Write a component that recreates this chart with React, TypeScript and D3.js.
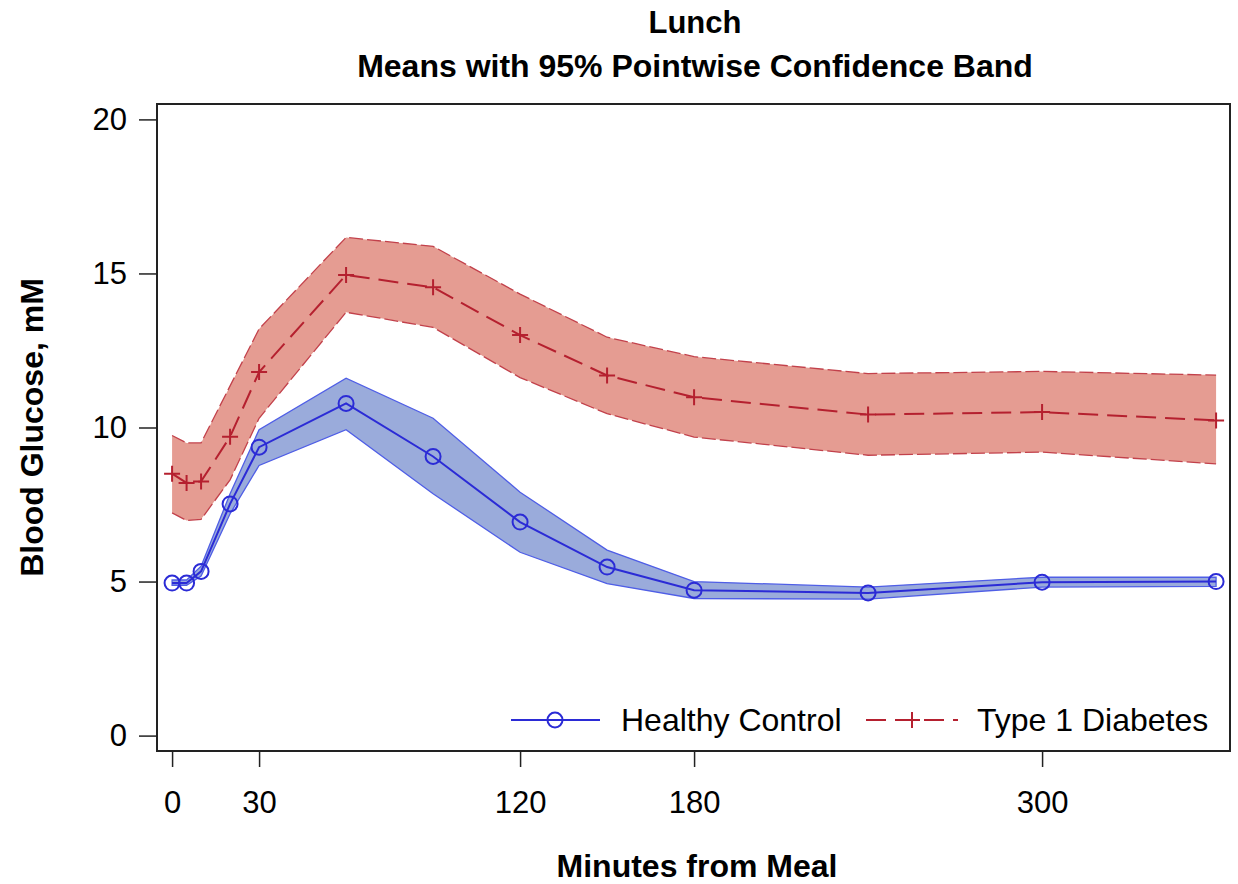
import React, { useEffect, useRef } from 'react'
import * as d3 from 'd3'

////////////////////
//// Data
const minutes = [0, 5, 10, 20, 30, 60, 90, 120, 150, 180, 240, 300, 360]

const healthyMean = [4.95, 4.95, 5.33, 7.52, 9.36, 10.78, 9.06, 6.93, 5.47, 4.72, 4.63, 4.98, 5.0]
const healthyUpper = [5.05, 5.05, 5.5, 7.85, 9.93, 11.6, 10.3, 7.9, 6.02, 5.0, 4.82, 5.14, 5.14]
const healthyLower = [4.88, 4.88, 5.18, 7.2, 8.77, 9.93, 7.85, 5.95, 4.93, 4.45, 4.43, 4.82, 4.84]

const diabMean = [8.5, 8.2, 8.25, 9.7, 11.8, 14.95, 14.55, 13.0, 11.69, 10.98, 10.42, 10.5, 10.23]
const diabUpper = [9.74, 9.5, 9.5, 11.35, 13.2, 16.17, 15.88, 14.33, 12.93, 12.3, 11.75, 11.82, 11.7]
const diabLower = [7.23, 6.98, 7.02, 8.3, 10.3, 13.74, 13.25, 11.62, 10.45, 9.69, 9.1, 9.2, 8.82]

const xTicks = [0, 30, 120, 180, 300]
const yTicks = [0, 5, 10, 15, 20]

const groupNames = ['Healthy Control', 'Type 1 Diabetes']

const width = 1238
const height = 884
const margin = { top: 104, right: 8, bottom: 133, left: 157 }
const font = '"Liberation Sans", Arial, sans-serif'

export default function App() {
    const svgRef = useRef(null)

    useEffect(() => {
        const svg = d3.select(svgRef.current)
        svg.selectAll('*').remove()

        const x = d3.scaleLinear().domain([-5.2, 364.8]).range([margin.left, width - margin.right])
        const y = d3.scaleLinear().domain([-0.5, 20.5]).range([height - margin.bottom, margin.top])

        const healthy = minutes.map((m, i) => ({ m, mean: healthyMean[i], lo: healthyLower[i], hi: healthyUpper[i] }))
        const diab = minutes.map((m, i) => ({ m, mean: diabMean[i], lo: diabLower[i], hi: diabUpper[i] }))

        const band = d3.area().x(d => x(d.m)).y0(d => y(d.lo)).y1(d => y(d.hi))
        const line = d3.line().x(d => x(d.m))

        // diabetes band
        svg.append('path')
            .attr('d', band(diab))
            .attr('fill', '#E59C92')
        svg.append('path')
            .attr('d', line.y(d => y(d.hi))(diab))
            .attr('fill', 'none').attr('stroke', '#C2414B').attr('stroke-width', 1.3)
            .attr('stroke-dasharray', '14,4')
        svg.append('path')
            .attr('d', line.y(d => y(d.lo))(diab))
            .attr('fill', 'none').attr('stroke', '#C2414B').attr('stroke-width', 1.3)
            .attr('stroke-dasharray', '14,4')

        // healthy band
        svg.append('path')
            .attr('d', band(healthy))
            .attr('fill', '#9AABDB')
            .attr('stroke', '#4F5EE6')
            .attr('stroke-width', 1.3)

        // mean lines
        svg.append('path')
            .attr('d', line.y(d => y(d.mean))(diab))
            .attr('fill', 'none').attr('stroke', '#B5202F').attr('stroke-width', 2)
            .attr('stroke-dasharray', '20,9')
        svg.append('path')
            .attr('d', line.y(d => y(d.mean))(healthy))
            .attr('fill', 'none').attr('stroke', '#2B2BD6').attr('stroke-width', 2)

        // markers
        svg.append('g').selectAll('circle')
            .data(healthy)
            .join('circle')
            .attr('cx', d => x(d.m)).attr('cy', d => y(d.mean))
            .attr('r', 7.5)
            .attr('fill', 'none').attr('stroke', '#2B2BD6').attr('stroke-width', 2)
        svg.append('g').selectAll('path')
            .data(diab)
            .join('path')
            .attr('d', d => `M${ x(d.m) - 8 },${ y(d.mean) }h16M${ x(d.m) },${ y(d.mean) - 8 }v16`)
            .attr('stroke', '#B5202F').attr('stroke-width', 2)

        // frame
        svg.append('rect')
            .attr('x', margin.left).attr('y', margin.top)
            .attr('width', width - margin.right - margin.left)
            .attr('height', height - margin.bottom - margin.top)
            .attr('fill', 'none').attr('stroke', '#222').attr('stroke-width', 2)

        // axes
        const xAxis = svg.append('g')
            .attr('transform', `translate(0,${ height - margin.bottom })`)
            .call(d3.axisBottom(x).tickValues(xTicks).tickSize(16).tickPadding(24))
        const yAxis = svg.append('g')
            .attr('transform', `translate(${ margin.left },0)`)
            .call(d3.axisLeft(y).tickValues(yTicks).tickSize(18).tickPadding(12))
        for (const ax of [ xAxis, yAxis ]) {
            ax.select('.domain').remove()
            ax.selectAll('line').attr('stroke', '#222').attr('stroke-width', 1.5)
            ax.selectAll('text').attr('font-family', font).attr('font-size', 31).attr('fill', '#000')
        }

        // titles
        svg.append('text')
            .attr('x', 695).attr('y', 33)
            .attr('text-anchor', 'middle')
            .attr('font-family', font).attr('font-weight', 'bold').attr('font-size', 31)
            .text('Lunch')
        svg.append('text')
            .attr('x', 695).attr('y', 77)
            .attr('text-anchor', 'middle')
            .attr('font-family', font).attr('font-weight', 'bold').attr('font-size', 32)
            .text('Means with 95% Pointwise Confidence Band')
        svg.append('text')
            .attr('x', 697).attr('y', 877)
            .attr('text-anchor', 'middle')
            .attr('font-family', font).attr('font-weight', 'bold').attr('font-size', 32)
            .text('Minutes from Meal')
        svg.append('text')
            .attr('transform', `translate(43,${ (margin.top + height - margin.bottom) / 2 }) rotate(-90)`)
            .attr('text-anchor', 'middle')
            .attr('font-family', font).attr('font-weight', 'bold').attr('font-size', 32)
            .text('Blood Glucose, mM')

        // legend
        const ly = 720
        const lg = svg.append('g')
        lg.append('line').attr('x1', 511).attr('x2', 600).attr('y1', ly).attr('y2', ly)
            .attr('stroke', '#2B2BD6').attr('stroke-width', 2)
        lg.append('circle').attr('cx', 555).attr('cy', ly).attr('r', 7.5)
            .attr('fill', 'none').attr('stroke', '#2B2BD6').attr('stroke-width', 2)
        lg.append('text').attr('x', 621).attr('y', ly + 11)
            .attr('font-family', font).attr('font-size', 32).text(groupNames[0])
        lg.append('line').attr('x1', 866).attr('x2', 958).attr('y1', ly).attr('y2', ly)
            .attr('stroke', '#B5202F').attr('stroke-width', 2)
            .attr('stroke-dasharray', '20,9')
        lg.append('path')
            .attr('d', `M${ 912 - 8 },${ ly }h16M912,${ ly - 8 }v16`)
            .attr('stroke', '#B5202F').attr('stroke-width', 2)
        lg.append('text').attr('x', 977).attr('y', ly + 11)
            .attr('font-family', font).attr('font-size', 32).text(groupNames[1])
    }, [])

    return (
        <svg ref={ svgRef } width={ width } height={ height }
             style={ { display: 'block', position: 'absolute', left: 0, top: 0, background: '#fff' } }/>
    )
}
